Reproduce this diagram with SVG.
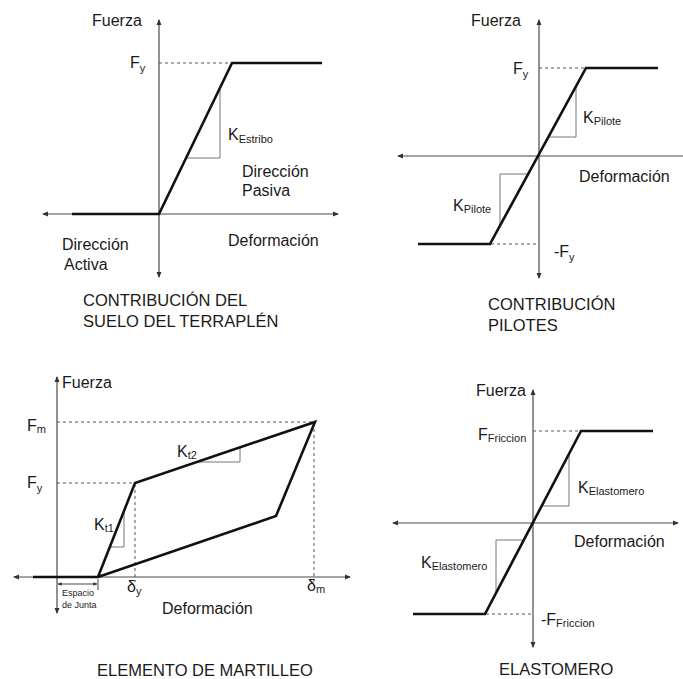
<svg xmlns="http://www.w3.org/2000/svg" width="683" height="679" viewBox="0 0 683 679">
<defs>
<style>
.ax{stroke:#4a4a4a;stroke-width:1.2;fill:none}
.cv{stroke:#111;stroke-width:2.6;fill:none;stroke-linejoin:miter}
.sl{stroke:#777;stroke-width:1;fill:none}
.ds{stroke:#555;stroke-width:1;stroke-dasharray:3 3;fill:none}
.dim{stroke:#333;stroke-width:0.9;fill:none}
text{font-family:"Liberation Sans",Arial,sans-serif;fill:#1a1a1a}
.lb{font-size:16px}
.tt{font-size:16.5px}
.sb{font-size:11px}
.sm{font-size:9px}
</style>
<marker id="ar" viewBox="0 0 6 6" refX="5" refY="3" markerWidth="6" markerHeight="6" markerUnits="userSpaceOnUse" orient="auto">
<path d="M0,0.5 L6,3 L0,5.5 Z" fill="#333"/>
</marker>
<marker id="ars" viewBox="0 0 6 6" refX="5.5" refY="3" markerWidth="4" markerHeight="4" markerUnits="userSpaceOnUse" orient="auto">
<path d="M0,0.5 L6,3 L0,5.5 Z" fill="#333"/>
</marker>
</defs>

<g id="panel-suelo">
<line class="ax" x1="159" y1="246" x2="159" y2="20" marker-end="url(#ar)"/>
<line class="ax" x1="159" y1="246" x2="159" y2="277" marker-end="url(#ar)"/>
<line class="ax" x1="159" y1="214" x2="43" y2="214" marker-end="url(#ar)"/>
<line class="ax" x1="159" y1="214" x2="338" y2="214" marker-end="url(#ar)"/>
<line class="ds" x1="159" y1="63" x2="231" y2="63"/>
<polyline class="sl" points="220,88 220,158 186,158"/>
<polyline class="cv" points="72,214 159,214 232,63 322,63"/>
<text class="lb" x="92" y="26">Fuerza</text>
<text class="lb" x="130" y="68">F<tspan class="sb" dy="4">y</tspan></text>
<text class="lb" x="228" y="140">K<tspan class="sb" dy="3">Estribo</tspan></text>
<text class="lb" x="242" y="177">Dirección</text>
<text class="lb" x="242" y="196">Pasiva</text>
<text class="lb" x="228" y="246">Deformación</text>
<text class="lb" x="62" y="250">Dirección</text>
<text class="lb" x="64" y="270">Activa</text>
<text class="tt" x="83" y="306">CONTRIBUCIÓN DEL</text>
<text class="tt" x="83" y="327">SUELO DEL TERRAPLÉN</text>
</g>

<g id="panel-pilotes">
<line class="ax" x1="539" y1="156" x2="539" y2="20" marker-end="url(#ar)"/>
<line class="ax" x1="539" y1="156" x2="539" y2="278" marker-end="url(#ar)"/>
<line class="ax" x1="539" y1="156" x2="398" y2="156" marker-end="url(#ar)"/>
<line class="ax" x1="539" y1="156" x2="683" y2="156"/>
<line class="ds" x1="539" y1="68" x2="585" y2="68"/>
<line class="ds" x1="491" y1="244" x2="539" y2="244"/>
<polyline class="sl" points="576,86 576,137 548,137"/>
<polyline class="sl" points="528,174 500,174 500,226"/>
<polyline class="cv" points="418,244 490,244 586,68 658,68"/>
<text class="lb" x="471" y="26">Fuerza</text>
<text class="lb" x="513" y="74">F<tspan class="sb" dy="4">y</tspan></text>
<text class="lb" x="583" y="123">K<tspan class="sb" dy="2">Pilote</tspan></text>
<text class="lb" x="453" y="211">K<tspan class="sb" dy="2">Pilote</tspan></text>
<text class="lb" x="579" y="182">Deformación</text>
<text class="lb" x="554" y="257">-F<tspan class="sb" dy="4">y</tspan></text>
<text class="tt" x="488" y="310">CONTRIBUCIÓN</text>
<text class="tt" x="488" y="331">PILOTES</text>
</g>

<g id="panel-martilleo">
<line class="ax" x1="57" y1="577" x2="57" y2="377" marker-end="url(#ar)"/>
<line class="ax" x1="57" y1="577" x2="57" y2="613" marker-end="url(#ar)"/>
<line class="ax" x1="57" y1="577" x2="14" y2="577" marker-end="url(#ar)"/>
<line class="ax" x1="57" y1="577" x2="350" y2="577" marker-end="url(#ar)"/>
<line class="ds" x1="57" y1="422" x2="314" y2="422"/>
<line class="ds" x1="57" y1="483" x2="134" y2="483"/>
<line class="ds" x1="135" y1="484" x2="135" y2="582"/>
<line class="ds" x1="314" y1="423" x2="314" y2="582"/>
<polyline class="sl" points="197,462 240,462 240,447"/>
<polyline class="sl" points="124,511 124,547 110,547"/>
<polyline class="cv" points="33,577 98,577 135,483 315,422 276,516 98,577"/>
<line class="dim" x1="98" y1="579" x2="98" y2="590"/>
<line class="dim" x1="78" y1="584" x2="58" y2="584" marker-end="url(#ars)"/>
<line class="dim" x1="78" y1="584" x2="97" y2="584" marker-end="url(#ars)"/>
<text class="lb" x="62" y="388">Fuerza</text>
<text class="lb" x="27" y="431">F<tspan class="sb" dy="2">m</tspan></text>
<text class="lb" x="27" y="488">F<tspan class="sb" dy="4">y</tspan></text>
<text class="lb" x="94" y="530">K<tspan class="sb" dy="2">t1</tspan></text>
<text class="lb" x="177" y="457">K<tspan class="sb" dy="2">t2</tspan></text>
<text class="lb" x="127" y="592">δ<tspan class="sb" dy="3">y</tspan></text>
<text class="lb" x="307" y="591">δ<tspan class="sb" dy="2">m</tspan></text>
<text class="sm" x="62" y="596">Espacio</text>
<text class="sm" x="62" y="608">de Junta</text>
<text class="lb" x="162" y="614">Deformación</text>
<text class="tt" x="97" y="676">ELEMENTO DE MARTILLEO</text>
</g>

<g id="panel-elastomero">
<line class="ax" x1="533" y1="523" x2="533" y2="390" marker-end="url(#ar)"/>
<line class="ax" x1="533" y1="523" x2="533" y2="647" marker-end="url(#ar)"/>
<line class="ax" x1="533" y1="523" x2="393" y2="523" marker-end="url(#ar)"/>
<line class="ax" x1="533" y1="523" x2="678" y2="523" marker-end="url(#ar)"/>
<line class="ds" x1="533" y1="431" x2="580" y2="431"/>
<line class="ds" x1="486" y1="614" x2="533" y2="614"/>
<polyline class="sl" points="569,454 569,506 542,506"/>
<polyline class="sl" points="524,540 496,540 496,593"/>
<polyline class="cv" points="413,614 485,614 581,431 653,431"/>
<text class="lb" x="476" y="396">Fuerza</text>
<text class="lb" x="478" y="440">F<tspan class="sb" dy="2">Friccion</tspan></text>
<text class="lb" x="578" y="493">K<tspan class="sb" dy="2">Elastomero</tspan></text>
<text class="lb" x="421" y="568">K<tspan class="sb" dy="2">Elastomero</tspan></text>
<text class="lb" x="574" y="547">Deformación</text>
<text class="lb" x="541" y="625">-F<tspan class="sb" dy="2">Friccion</tspan></text>
<text class="tt" x="499" y="675">ELASTOMERO</text>
</g>
</svg>
